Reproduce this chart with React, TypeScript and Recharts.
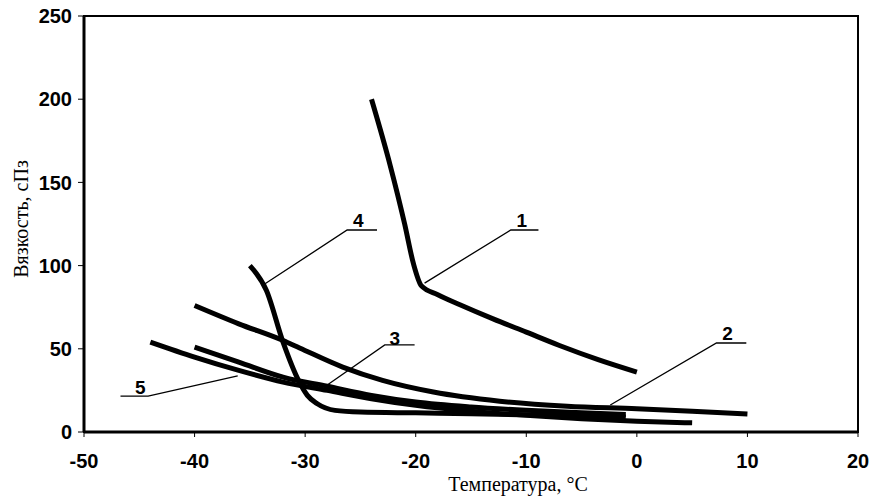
import { LineChart, Line, XAxis, YAxis, ReferenceArea, ReferenceDot } from "recharts"

// viscosity vs temperature, curves 1..5
const curve1 = [
  { t: -24, v: 200 }, { t: -22.3, v: 160 }, { t: -21, v: 125 }, { t: -20.2, v: 101 },
  { t: -19.5, v: 88 }, { t: -18, v: 82.5 }, { t: -16, v: 76.5 }, { t: -13, v: 68 },
  { t: -10, v: 60 }, { t: -7, v: 52 }, { t: -3.5, v: 43.5 }, { t: 0, v: 36 },
]
const curve2 = [
  { t: -40, v: 76 }, { t: -36, v: 65 }, { t: -32, v: 55 }, { t: -30.5, v: 50.5 },
  { t: -26.6, v: 39 }, { t: -23, v: 31 }, { t: -18.4, v: 24 }, { t: -12.4, v: 18.5 },
  { t: -6.3, v: 15.5 }, { t: 0, v: 14 }, { t: 5, v: 12.5 }, { t: 10, v: 10.8 },
]
const curve3 = [
  { t: -40, v: 51 }, { t: -36, v: 42 }, { t: -32, v: 33 }, { t: -28, v: 27.5 },
  { t: -24, v: 22 }, { t: -20, v: 18 }, { t: -15, v: 15 }, { t: -10, v: 13 },
  { t: -5, v: 11.5 }, { t: -1, v: 10.5 },
]
const curve4 = [
  { t: -35, v: 100 }, { t: -33.5, v: 85 }, { t: -32, v: 54 }, { t: -30.6, v: 31 },
  { t: -29.8, v: 22 }, { t: -28.9, v: 17 }, { t: -27.3, v: 13 }, { t: -25, v: 12 },
  { t: -20, v: 11.5 }, { t: -15, v: 11 }, { t: -10, v: 10.3 }, { t: -5, v: 9.6 },
  { t: -1, v: 9 },
]
const curve5 = [
  { t: -44, v: 54 }, { t: -40, v: 45 }, { t: -36, v: 37 }, { t: -32, v: 30 },
  { t: -28, v: 25 }, { t: -24, v: 20 }, { t: -20, v: 16 }, { t: -15, v: 12.5 },
  { t: -10, v: 10 }, { t: -5, v: 8 }, { t: 0, v: 6.5 }, { t: 5, v: 5.5 },
]

// leader lines: point on curve -> elbow -> end of shelf
const leader1 = [{ t: -19.2, v: 89.5 }, { t: -11.4, v: 121.4 }, { t: -8.9, v: 121.4 }]
const leader2 = [{ t: -2.4, v: 16.2 }, { t: 7.2, v: 53.5 }, { t: 9.9, v: 53.5 }]
const leader3 = [{ t: -28, v: 28.2 }, { t: -22.8, v: 52.3 }, { t: -20.1, v: 52.3 }]
const leader4 = [{ t: -33.8, v: 88.3 }, { t: -26.2, v: 121.4 }, { t: -23.5, v: 121.4 }]
const leader5 = [{ t: -36.1, v: 33.7 }, { t: -44.2, v: 21.6 }, { t: -46.7, v: 21.6 }]

const curveLabels = [
  { name: "1", t: -10.4, v: 127.4 },
  { name: "2", t: 8.2, v: 59.5 },
  { name: "3", t: -21.9, v: 56.5 },
  { name: "4", t: -25.2, v: 127.4 },
  { name: "5", t: -44.9, v: 27 },
]

const xTicks = [-50, -40, -30, -20, -10, 0, 10, 20]
const yTicks = [0, 50, 100, 150, 200, 250]

const tickFont = { fontFamily: "Liberation Sans, Arial", fontSize: 20, fontWeight: 700, fill: "#000" }
const titleFont = "Liberation Serif, Times New Roman"

export default function App() {
  const curves = [curve1, curve2, curve3, curve4, curve5]
  const leaders = [leader1, leader2, leader3, leader4, leader5]
  return (
    <div style={{ position: "absolute", left: 0, top: 0, background: "#fff" }}>
      <LineChart width={871} height={500} margin={{ top: 16, right: 13, left: 0, bottom: 0 }}>
        <XAxis
          dataKey="t"
          type="number"
          domain={[-50, 20]}
          ticks={xTicks}
          allowDataOverflow
          height={68}
          tickSize={5}
          tickMargin={17}
          stroke="#000"
          axisLine={{ strokeWidth: 3 }}
          tick={tickFont}
          label={{
            content: () => (
              <text x={518} y={491} textAnchor="middle" fontFamily={titleFont} fontSize={20} fill="#000">
                Температура, °C
              </text>
            ),
          }}
        />
        <YAxis
          type="number"
          domain={[0, 250]}
          ticks={yTicks}
          allowDataOverflow
          width={84}
          tickSize={6}
          tickMargin={6}
          stroke="#000"
          axisLine={{ strokeWidth: 3 }}
          tick={tickFont}
          label={{
            content: () => (
              <text
                x={21}
                y={219}
                transform="rotate(-90 21 219)"
                textAnchor="middle"
                dominantBaseline="central"
                fontFamily={titleFont}
                fontSize={20}
                fill="#000"
              >
                Вязкость, сПз
              </text>
            ),
          }}
        />
        <ReferenceArea x1={-50} x2={20} y1={0} y2={250} fill="none" stroke="#000" strokeWidth={2} />
        {curves.map((c, i) => (
          <Line
            key={"c" + i}
            data={c}
            dataKey="v"
            type="monotone"
            stroke="#000"
            strokeWidth={5}
            strokeLinejoin="round"
            dot={false}
            isAnimationActive={false}
          />
        ))}
        {leaders.map((l, i) => (
          <Line
            key={"l" + i}
            data={l}
            dataKey="v"
            type="linear"
            stroke="#000"
            strokeWidth={1.3}
            dot={false}
            isAnimationActive={false}
          />
        ))}
        {curveLabels.map((lb) => (
          <ReferenceDot
            key={lb.name}
            x={lb.t}
            y={lb.v}
            r={0}
            fill="none"
            stroke="none"
            label={{
              value: lb.name,
              position: "center",
              fill: "#000",
              fontSize: 19,
              fontWeight: 700,
              fontFamily: "Liberation Sans, Arial",
            }}
          />
        ))}
      </LineChart>
    </div>
  )
}
